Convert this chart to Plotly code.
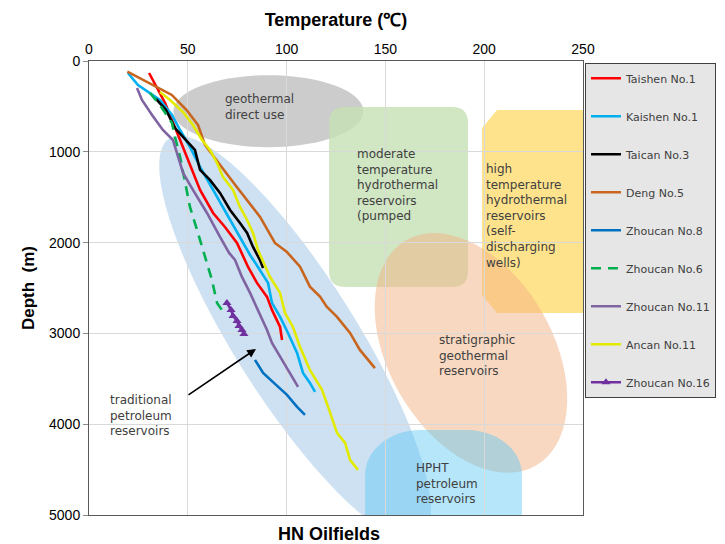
import numpy as np
import plotly.graph_objects as go

# ---------------- data (temperature degC, depth m) ----------------
taishen_T = [30.4, 38.5, 46.1, 56.2, 62.8, 68.8, 74.9, 80.5, 85.0, 90.1, 92.6, 96.7, 97.7]
taishen_D = [132, 462, 870, 1420, 1674, 1828, 2004, 2268, 2444, 2598, 2741, 2929, 3072]

kaishen_T = [19.7, 24.8, 35.9, 42.0, 46.1, 51.1, 56.2, 62.8, 69.8, 76.4, 81.5, 85.5, 90.6, 92.6, 96.7, 100.7, 105.3, 108.3, 111.8, 114.4]
kaishen_D = [132, 264, 429, 595, 760, 947, 1167, 1420, 1674, 1938, 2136, 2268, 2444, 2664, 2819, 2995, 3215, 3435, 3545, 3644]

taican_T = [33.9, 39.0, 43.5, 47.6, 53.6, 56.2, 61.2, 66.3, 71.4, 76.4, 80.0, 83.0, 86.5, 88.1]
taican_D = [418, 540, 738, 837, 980, 1200, 1310, 1453, 1640, 1784, 1894, 2048, 2191, 2279]

deng_T = [19.4, 41.9, 49.4, 55.2, 58.7, 66.3, 74.7, 86.5, 94.1, 100.0, 106.8, 111.8, 116.9, 120.3, 125.4, 132.1, 137.1, 144.7]
deng_D = [118, 374, 540, 705, 925, 1145, 1384, 1714, 2004, 2100, 2265, 2485, 2595, 2705, 2815, 2995, 3182, 3383]

zc8_T = [84.0, 88.1, 94.1, 100.2, 105.3, 109.3]
zc8_D = [3292, 3435, 3556, 3677, 3809, 3897]

zc6_T = [30.9, 36.9, 42.0, 43.5, 46.1, 48.6, 51.1, 54.7, 58.7, 62.2, 64.8, 68.3]
zc6_D = [352, 517, 683, 837, 1057, 1343, 1607, 1861, 2158, 2411, 2664, 2775]

zc11_T = [24.3, 26.8, 31.9, 37.4, 42.5, 45.0, 47.6, 52.6, 59.7, 66.3, 70.9, 73.9, 77.4, 81.5, 85.5, 90.1, 92.6, 97.7, 101.7, 105.8]
zc11_D = [297, 429, 595, 760, 870, 1057, 1233, 1420, 1674, 1938, 2114, 2191, 2378, 2554, 2741, 2962, 3105, 3292, 3435, 3589]

ancan_T = [35.9, 41.0, 47.6, 52.6, 57.2, 61.2, 64.8, 67.8, 72.9, 76.4, 80.0, 83.0, 85.5, 91.6, 96.7, 99.2, 103.2, 106.8, 111.8, 117.9, 121.0, 125.5, 129.6, 132.1, 136.1]
ancan_D = [341, 429, 562, 705, 870, 980, 1123, 1277, 1420, 1607, 1751, 1894, 2081, 2378, 2554, 2775, 2929, 3149, 3402, 3622, 3809, 4096, 4206, 4393, 4503]

zc16_T = [69.8, 71.9, 72.9, 74.9, 75.9, 77.4, 78.4]
zc16_D = [2664, 2741, 2808, 2863, 2918, 2962, 3006]

x_ticks = [0, 50, 100, 150, 200, 250]
y_ticks = [0, 1000, 2000, 3000, 4000, 5000]

# ---------------- layout geometry ----------------
W, H = 725, 544
ML, MR, MT, MB = 89, 142, 61, 29
PW, PH = W - ML - MR, H - MT - MB
SX = PW / 250.0   # px per degC
SY = PH / 5000.0  # px per m

def ellipse_path(cx, cy, a_px, b_px, ang_deg, n=72):
    t = np.linspace(0, 2 * np.pi, n, endpoint=False)
    th = np.radians(ang_deg)
    px = a_px * np.cos(t) * np.cos(th) - b_px * np.sin(t) * np.sin(th)
    py = a_px * np.cos(t) * np.sin(th) + b_px * np.sin(t) * np.cos(th)
    xs = cx + px / SX
    ys = cy + py / SY
    pts = ["%s%.3f,%.3f" % ("M" if i == 0 else "L", xs[i], ys[i]) for i in range(n)]
    return " ".join(pts) + " Z"

def rrect_path(x0, x1, y0, y1, r_px):
    rx, ry = r_px / SX, r_px / SY
    return (f"M{x0+rx},{y0} L{x1-rx},{y0} Q{x1},{y0} {x1},{y0+ry} "
            f"L{x1},{y1-ry} Q{x1},{y1} {x1-rx},{y1} L{x0+rx},{y1} "
            f"Q{x0},{y1} {x0},{y1-ry} L{x0},{y0+ry} Q{x0},{y0} {x0+rx},{y0} Z")

def top_round_path(x0, x1, y0, y1, rxp, ryp):
    rx, ry = rxp / SX, ryp / SY
    return (f"M{x0},{y1} L{x0},{y0+ry} C{x0},{y0+ry*0.45} {x0+rx*0.45},{y0} {x0+rx},{y0} "
            f"L{x1-rx},{y0} C{x1-rx*0.45},{y0} {x1},{y0+ry*0.45} {x1},{y0+ry} L{x1},{y1} Z")

shapes = [
    dict(type="path", path=ellipse_path(90.8, 553, 95, 36, 0), fillcolor="#bfbfbf", opacity=0.8),
    dict(type="path", path=ellipse_path(104.3, 3050, 236, 61, 57.8), fillcolor="#9dc3e6", opacity=0.5),
    dict(type="path", path=rrect_path(121.5, 191.8, 506, 2488, 16), fillcolor="#c5e0b4", opacity=0.8),
    dict(type="path", path="M198.9,738 L206.5,540 L255,540 L255,2775 L206.5,2775 L198.9,2576 Z",
         fillcolor="#ffd966", opacity=0.75),
    dict(type="path", path=ellipse_path(193.3, 3215, 130, 82, 60), fillcolor="#f4b183", opacity=0.5),
    dict(type="path", path=top_round_path(139.7, 219.1, 4063, 5300, 55, 45), fillcolor="#5bc8f5", opacity=0.45),
]
for s in shapes:
    s.update(xref="x", yref="y", line=dict(width=0), layer="below")

fig = go.Figure()

series = [
    ("Taishen No.1", taishen_T, taishen_D, "#ff0000", "solid", None),
    ("Kaishen No.1", kaishen_T, kaishen_D, "#00b0f0", "solid", None),
    ("Taican No.3", taican_T, taican_D, "#000000", "solid", None),
    ("Deng No.5", deng_T, deng_D, "#c8651e", "solid", None),
    ("Zhoucan No.8", zc8_T, zc8_D, "#0070c0", "solid", None),
    ("Zhoucan No.6", zc6_T, zc6_D, "#00b050", "10px,7px", None),
    ("Zhoucan No.11", zc11_T, zc11_D, "#8064a2", "solid", None),
    ("Ancan No.11", ancan_T, ancan_D, "#e2ea00", "solid", None),
    ("Zhoucan No.16", zc16_T, zc16_D, "#7030a0", "solid", "triangle-up"),
]
for name, xs, ys, col, dash, sym in series:
    fig.add_trace(go.Scatter(
        x=xs, y=ys, name=name, legendgroup=name,
        mode="lines+markers" if sym else "lines",
        line=dict(color=col, width=2.6, dash=dash),
        marker=dict(symbol=sym, size=8, color=col) if sym else None,
    ))

txt_font = dict(family="DejaVu Sans", size=12, color="#404040")
annots = [
    dict(x=67.8, y=506, text="geothermal<br>direct use"),
    dict(x=134.6, y=1371, text="moderate<br>temperature<br>hydrothermal<br>reservoirs<br>(pumped"),
    dict(x=199.9, y=1707, text="high<br>temperature<br>hydrothermal<br>reservoirs<br>(self-<br>discharging<br>wells)"),
    dict(x=176.1, y=3248, text="stratigraphic<br>geothermal<br>reservoirs"),
    dict(x=164.6, y=4657, text="HPHT<br>petroleum<br>reservoirs"),
    dict(x=9.6, y=3909, text="traditional<br>petroleum<br>reservoirs"),
]
for a in annots:
    a.update(xref="x", yref="y", showarrow=False, xanchor="left", yanchor="middle",
             align="left", font=txt_font)
annots.append(dict(x=84.5, y=3171, ax=49.6, ay=3688, xref="x", yref="y", axref="x", ayref="y",
                   text="", showarrow=True, arrowhead=2, arrowsize=1.1, arrowwidth=1.6,
                   arrowcolor="#000000"))
annots.append(dict(x=0.485, y=-0.068, xref="paper", yref="paper", text="<b>HN Oilfields</b>",
                   showarrow=False, xanchor="center", yanchor="bottom",
                   font=dict(family="Liberation Sans Narrow, Liberation Sans, Arial", size=18, color="#000000")))

axis_font = dict(family="Liberation Sans Narrow, Liberation Sans, Arial", size=14, color="#000000")
fig.update_layout(
    width=W, height=H,
    margin=dict(l=ML, r=MR, t=MT, b=MB, autoexpand=False),
    paper_bgcolor="white", plot_bgcolor="white",
    shapes=shapes, annotations=annots,
    showlegend=True,
    legend=dict(x=1.004, y=0.996, xanchor="left", yanchor="top",
                bgcolor="#e6e6e6", bordercolor="#404040", borderwidth=1,
                font=dict(family="DejaVu Sans", size=11, color="#404040"),
                traceorder="grouped", tracegroupgap=19, itemwidth=30),
    xaxis=dict(side="top", range=[0, 250], tickvals=x_ticks, ticktext=[str(v) for v in x_ticks],
               showgrid=True, gridcolor="#d9d9d9", gridwidth=1, zeroline=False,
               showline=True, linecolor="#595959", linewidth=1, mirror=True,
               ticks="", tickfont=axis_font,
               title=dict(text="<b>Temperature (℃)</b>", standoff=10,
                          font=dict(family="Liberation Sans Narrow, Liberation Sans, Arial", size=18, color="#000000"))),
    yaxis=dict(range=[5000, 0], tickvals=y_ticks, ticktext=[str(v) for v in y_ticks],
               showgrid=True, gridcolor="#d9d9d9", gridwidth=1, zeroline=False,
               showline=True, linecolor="#595959", linewidth=1, mirror=True,
               ticks="outside", ticklen=5, tickcolor="#8c8c8c", tickfont=axis_font,
               title=dict(text="<b>Depth  (m)</b>", standoff=10,
                          font=dict(family="Liberation Sans Narrow, Liberation Sans, Arial", size=17, color="#000000"))),
)

fig.write_html("out.html")
